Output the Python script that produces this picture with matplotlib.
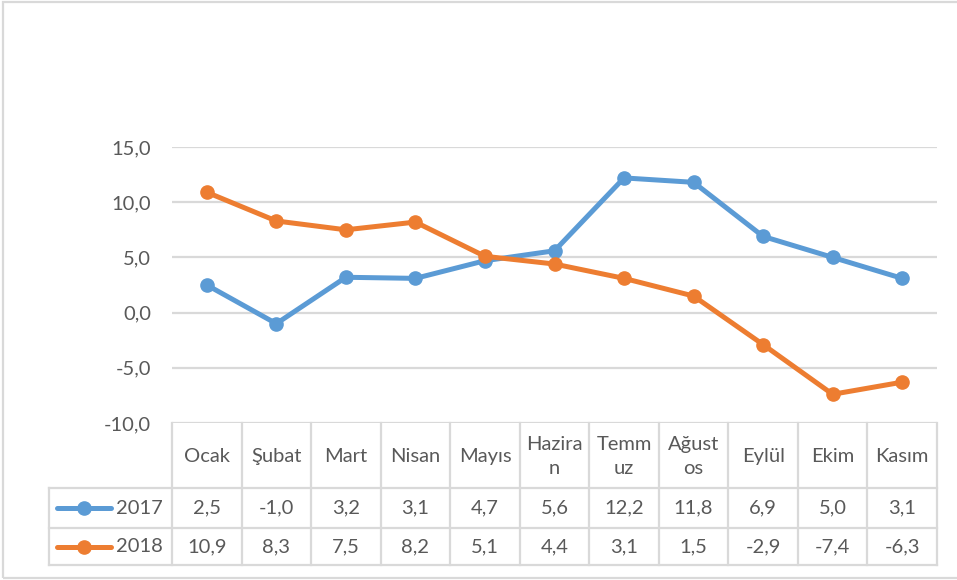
import matplotlib
matplotlib.use("Agg")
import matplotlib.pyplot as plt
from matplotlib.lines import Line2D
from matplotlib.patches import Rectangle
import matplotlib.transforms as mtransforms

months = ["Ocak", "Şubat", "Mart", "Nisan", "Mayıs", "Hazira\nn", "Temm\nuz",
          "Ağust\nos", "Eylül", "Ekim", "Kasım"]
series_names = ["2017", "2018"]
values_2017 = [2.5, -1.0, 3.2, 3.1, 4.7, 5.6, 12.2, 11.8, 6.9, 5.0, 3.1]
values_2018 = [10.9, 8.3, 7.5, 8.2, 5.1, 4.4, 3.1, 1.5, -2.9, -7.4, -6.3]
yticks = [-10, -5, 0, 5, 10, 15]

colors = ["#5B9BD5", "#ED7D31"]
text_color = "#595959"
grid_color = "#D9D9D9"
FONT = ["Lato", "DejaVu Sans"]
plt.rcParams["font.family"] = FONT
FS = 14.5

W, H = 957, 580
fig = plt.figure(figsize=(W / 100, H / 100), dpi=100)

def fx(px):
    return px / W

def fy(py):
    return 1 - py / H

# plot area
left, right, top, bottom = 172, 937, 147, 423
ax = fig.add_axes([fx(left), fy(bottom), fx(right) - fx(left), fy(top) - fy(bottom)])
n = len(months)
xs = list(range(n))
ax.set_xlim(-0.5, n - 0.5)
ax.set_ylim(-10, 15)
ax.set_yticks(yticks)
ax.set_yticklabels([f"{v:.1f}".replace(".", ",") for v in yticks])
ax.set_xticks([])
ax.tick_params(axis="y", length=0, pad=15, labelsize=FS, labelcolor=text_color)
for s in ax.spines.values():
    s.set_visible(False)
ax.grid(axis="y", color=grid_color, linewidth=1.6)
ax.set_axisbelow(True)

all_series = [values_2017, values_2018]
for vals, c in zip(all_series, colors):
    ax.plot(xs, vals, color=c, linewidth=3.6, marker="o", markersize=9.5,
            solid_capstyle="round", solid_joinstyle="round", zorder=3, clip_on=False)

# data table
blend = mtransforms.blended_transform_factory(ax.transData, fig.transFigure)
row_tops = [423, 488, 528, 565]
table_left = 49
lw = 1.6
for i in range(n + 1):
    xv = i - 0.5
    fig.add_artist(Line2D([xv, xv], [fy(row_tops[0]), fy(row_tops[-1])],
                          transform=blend, color=grid_color, linewidth=lw))
for yy in row_tops[1:]:
    fig.add_artist(Line2D([fx(table_left), fx(right)], [fy(yy), fy(yy)],
                          transform=fig.transFigure, color=grid_color, linewidth=lw))
fig.add_artist(Line2D([fx(table_left), fx(table_left)], [fy(row_tops[1]), fy(row_tops[-1])],
                      transform=fig.transFigure, color=grid_color, linewidth=lw))

# header labels
hdr_y = fy((row_tops[0] + row_tops[1]) / 2 + 1)
for i, m in enumerate(months):
    fig.text(i, hdr_y, m, transform=blend, ha="center", va="center",
             fontsize=FS, color=text_color, linespacing=1.45)

# value rows + legend keys
for r, (vals, name, c) in enumerate(zip(all_series, series_names, colors)):
    yc = fy((row_tops[r + 1] + row_tops[r + 2]) / 2)
    for i, v in enumerate(vals):
        fig.text(i, yc, f"{v:.1f}".replace(".", ","), transform=blend,
                 ha="center", va="center", fontsize=FS, color=text_color)
    fig.add_artist(Line2D([fx(57), fx(111)], [yc, yc], transform=fig.transFigure,
                          color=c, linewidth=3.6, solid_capstyle="round"))
    fig.add_artist(Line2D([fx(84)], [yc], transform=fig.transFigure, color=c,
                          marker="o", markersize=9.5, linestyle="none"))
    fig.text(fx(116), yc, name, ha="left", va="center", fontsize=FS, color=text_color)

# outer frame
fig.add_artist(Rectangle((fx(3), fy(578)), fx(W + 5) - fx(3), fy(2) - fy(578),
                         transform=fig.transFigure, fill=False,
                         edgecolor=grid_color, linewidth=1.6))

fig.savefig("out.png", dpi=100, facecolor="white")
